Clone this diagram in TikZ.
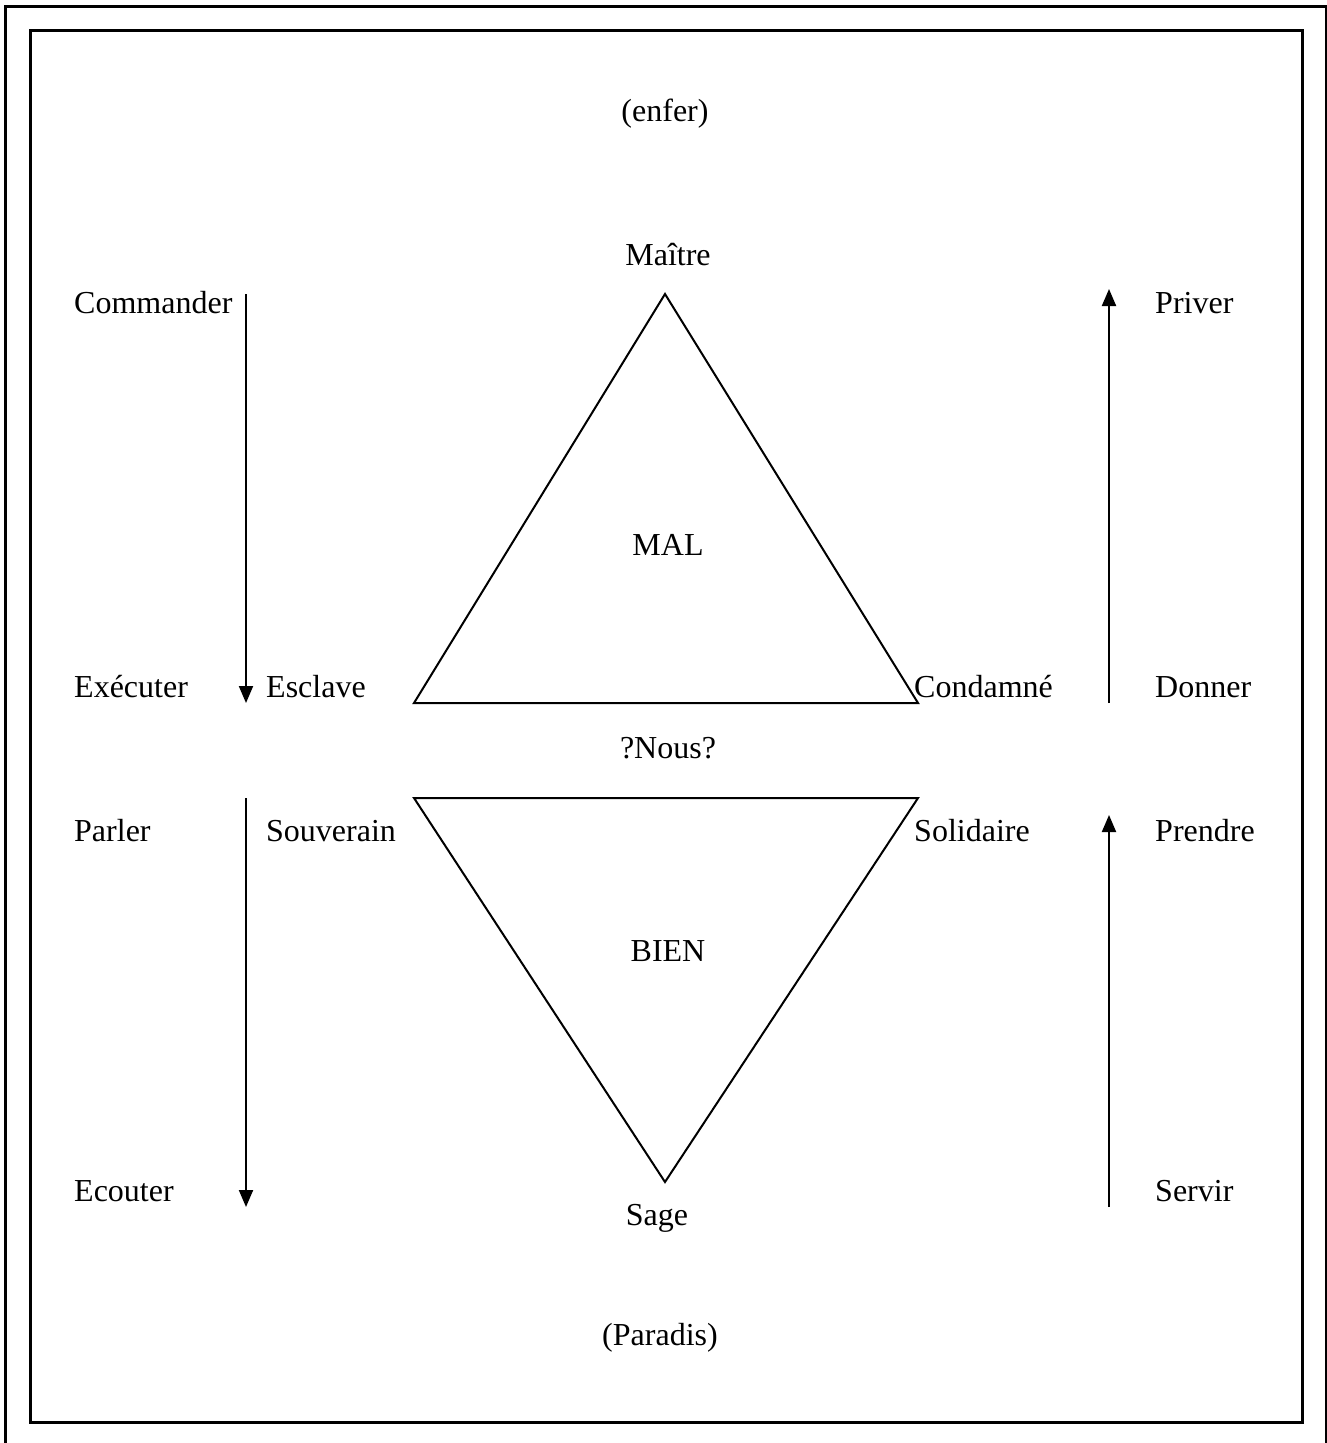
\documentclass[tikz,border=0pt]{standalone}
\usepackage{fontspec}
\setmainfont{Liberation Serif}
\usetikzlibrary{arrows.meta}
\tikzset{
  lbl/.style={font=\fontsize{32}{38}\selectfont, inner sep=0pt, text height=22pt, text depth=7pt, yshift=-4pt},
  lft/.style={lbl, anchor=west},
  tri/.style={line width=2pt, line join=miter},
  arr/.style={line width=2pt, -{Triangle[width=14pt,length=17pt]}},
  frame/.style={line width=3pt}
}
\begin{document}
\begin{tikzpicture}[x=1pt,y=-1pt]
\useasboundingbox (0,0) rectangle (1327,1443);
\draw[frame] (5,1443) -- (5,6) -- (1326,6) -- (1326,1443);
\draw[frame] (30,30) rectangle (1302,1422);

\node[lbl] (enfer) at (665,110) {(enfer)};
\node[lbl] (maitre) at (668,254) {Maître};
\node[lft] (commander) at (74,302) {Commander};
\node[lft] (priver) at (1155,302) {Priver};
\node[lbl] (mal) at (668,544) {MAL};
\node[lft] (executer) at (74,686) {Exécuter};
\node[lft] (esclave) at (266,686) {Esclave};
\node[lft] (condamne) at (914,686) {Condamné};
\node[lft] (donner) at (1155,686) {Donner};
\node[lbl] (nous) at (668,747) {?Nous?};
\node[lft] (parler) at (74,830) {Parler};
\node[lft] (souverain) at (266,830) {Souverain};
\node[lft] (solidaire) at (914,830) {Solidaire};
\node[lft] (prendre) at (1155,830) {Prendre};
\node[lbl] (bien) at (668,950) {BIEN};
\node[lft] (ecouter) at (74,1190) {Ecouter};
\node[lft] (servir) at (1155,1190) {Servir};
\node[lbl] (sage) at (657,1214) {Sage};
\node[lbl] (paradis) at (660,1334) {(Paradis)};

\coordinate (t1a) at (665,294);
\coordinate (t1b) at (414,703);
\coordinate (t1c) at (918,703);
\draw[tri] (t1a) -- (t1b) -- (t1c) -- cycle;
\coordinate (t2a) at (414,798);
\coordinate (t2b) at (918,798);
\coordinate (t2c) at (665,1182);
\draw[tri] (t2a) -- (t2b) -- (t2c) -- cycle;

\coordinate (a1s) at (246,294);
\coordinate (a1e) at (246,703);
\draw[arr] (a1s) -- (a1e);
\coordinate (a2s) at (246,798);
\coordinate (a2e) at (246,1207);
\draw[arr] (a2s) -- (a2e);
\coordinate (a3s) at (1109,703);
\coordinate (a3e) at (1109,289);
\draw[arr] (a3s) -- (a3e);
\coordinate (a4s) at (1109,1207);
\coordinate (a4e) at (1109,815);
\draw[arr] (a4s) -- (a4e);
\end{tikzpicture}
\end{document}
